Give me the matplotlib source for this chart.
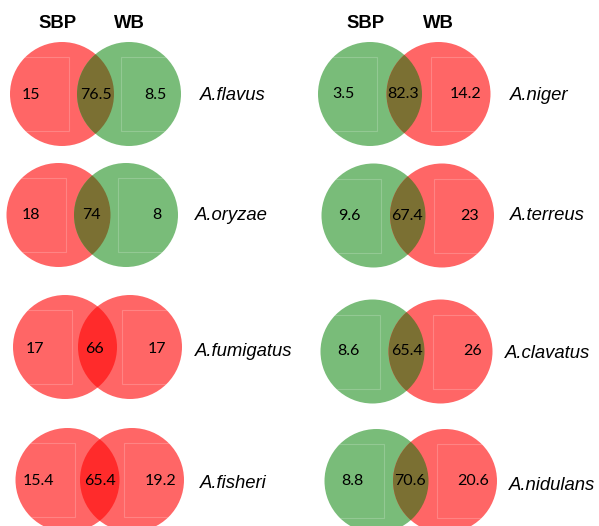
import matplotlib
matplotlib.use("Agg")
import matplotlib.pyplot as plt
from matplotlib.patches import Circle, Rectangle

# ---- data ----
species = ['A.flavus', 'A.oryzae', 'A.fumigatus', 'A.fisheri',
           'A.niger', 'A.terreus', 'A.clavatus', 'A.nidulans']
sbp_only = ['15', '18', '17', '15.4', '3.5', '9.6', '8.6', '8.8']
shared = ['76.5', '74', '66', '65.4', '82.3', '67.4', '65.4', '70.6']
wb_only = ['8.5', '8', '17', '19.2', '14.2', '23', '26', '20.6']
sbp_col = ['red', 'red', 'red', 'red', 'green', 'green', 'green', 'green']
wb_col = ['green', 'green', 'red', 'red', 'red', 'red', 'red', 'red']
set_names = ['SBP', 'WB']

# ---- layout (pixel coordinates) ----
R = 52
cy = [94, 215, 347, 480, 94, 215.5, 351.5, 481]
cx_left = [62, 58.5, 65, 67.5, 370, 373.5, 372.5, 376.5]
cx_right = [129, 126, 130, 132, 438.5, 442, 440.5, 445]
lab_x = [200, 195, 195, 200, 510, 510, 505, 509]
lab_y = [95, 215, 352, 484, 95, 216, 353, 485]
n1_x = [31, 31, 35, 38, 343, 349, 348, 352]
n2_x = [96, 91, 94, 100, 403, 407, 407, 410]
n3_x = [155, 157, 157, 161, 466, 470, 473, 473]
n_y = [95, 215, 349, 481, 94, 216, 351, 481]

solo = {'red': '#ff6666', 'green': '#79bc79'}
mix = {('red', 'red'): '#ff2b2b', ('red', 'green'): '#7b7033',
       ('green', 'red'): '#7b7033', ('green', 'green'): '#3f913f'}

fig = plt.figure(figsize=(5.99, 5.26), dpi=100)
ax = fig.add_axes([0, 0, 1, 1])
ax.set_xlim(0, 599)
ax.set_ylim(526, 0)
ax.axis('off')

numfont = dict(family=['Lato', 'DejaVu Sans'], fontsize=11.5, color='#000000')
for i in range(8):
    c1 = Circle((cx_left[i], cy[i]), R, facecolor=solo[sbp_col[i]], edgecolor='none')
    c2 = Circle((cx_right[i], cy[i]), R, facecolor=solo[wb_col[i]], edgecolor='none')
    ax.add_patch(c1)
    ax.add_patch(c2)
    lens = Circle((cx_right[i], cy[i]), R, facecolor=mix[(sbp_col[i], wb_col[i])],
                  edgecolor='none')
    ax.add_patch(lens)
    lens.set_clip_path(c1)
    # faint text-box outlines
    r1 = Rectangle((cx_left[i] - 80, cy[i] - 37), 87, 74, fill=False,
                   edgecolor='white', alpha=0.2, lw=0.8)
    ax.add_patch(r1)
    r1.set_clip_path(c1)
    r2 = Rectangle((cx_right[i] - 8, cy[i] - 37), 90, 74, fill=False,
                   edgecolor='white', alpha=0.2, lw=0.8)
    ax.add_patch(r2)
    r2.set_clip_path(c2)

    ax.text(n1_x[i], n_y[i], sbp_only[i], ha='center', va='center', **numfont)
    ax.text(n2_x[i], n_y[i], shared[i], ha='center', va='center', **numfont)
    ax.text(n3_x[i], n_y[i], wb_only[i], ha='center', va='center', **numfont)
    ax.text(lab_x[i], lab_y[i], species[i], ha='left', va='center',
            fontsize=13.3, style='italic', family=['Liberation Sans', 'DejaVu Sans'])

for k in (0, 4):
    ax.text(cx_left[k] - 4, 24, set_names[0], ha='center', va='center', fontsize=13.3,
            fontweight='bold', family=['Liberation Sans', 'DejaVu Sans'])
    ax.text(cx_right[k], 24, set_names[1], ha='center', va='center', fontsize=13.3,
            fontweight='bold', family=['Liberation Sans', 'DejaVu Sans'])

fig.savefig('out.png', dpi=100)
